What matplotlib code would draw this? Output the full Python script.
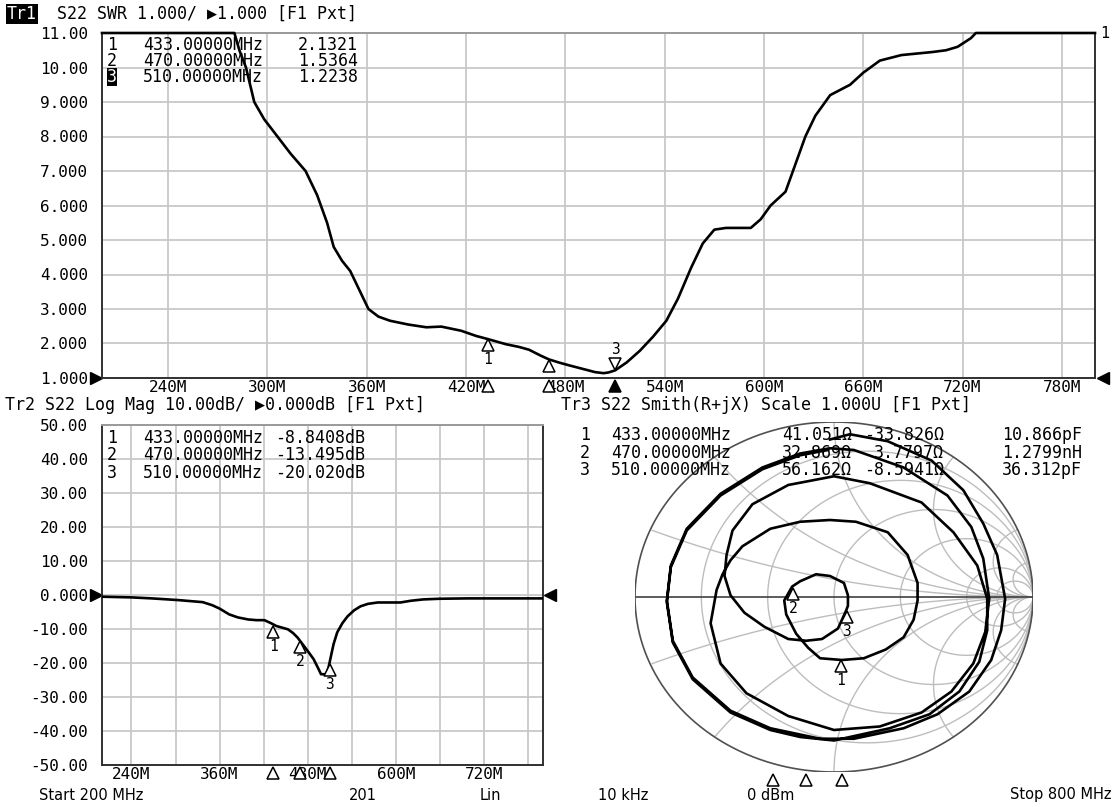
import numpy as np
import matplotlib
matplotlib.use('Agg')
import matplotlib.pyplot as plt
from matplotlib.transforms import offset_copy

plt.rcParams['font.family'] = ['DejaVu Sans Mono', 'DejaVu Sans']
plt.rcParams['font.size'] = 12

# ---- data ----
swr_freq = [200, 240, 280, 283, 287, 292, 298, 306, 314, 323, 330, 336, 340, 345, 350, 355, 361, 367, 374, 385,
            396, 405, 417, 426, 433, 444, 452, 458, 465, 470, 476, 482, 490, 498, 503, 506, 510, 517, 525, 533,
            541, 548, 556, 563, 570, 577, 585, 592, 598, 604, 613, 619, 625, 631, 640, 652, 660, 670, 683, 702,
            710, 717, 725, 728, 760, 800]
swr_val = [11, 11, 11, 10.5, 10.0, 9.0, 8.5, 8.0, 7.5, 7.0, 6.3, 5.5, 4.8, 4.4, 4.1, 3.6, 3.0, 2.78, 2.66, 2.55,
           2.47, 2.49, 2.37, 2.22, 2.13, 1.98, 1.9, 1.82, 1.65, 1.54, 1.45, 1.37, 1.27, 1.17, 1.14, 1.16, 1.22, 1.45, 1.79, 2.2,
           2.66, 3.3, 4.2, 4.9, 5.3, 5.35, 5.35, 5.35, 5.6, 6.0, 6.4, 7.2, 8.0, 8.6, 9.2, 9.5, 9.85, 10.2, 10.36, 10.45,
           10.5, 10.6, 10.85, 11, 11, 11]

lm_freq = [200, 240, 268, 304, 337, 350, 360, 373, 385, 399, 410, 421, 430, 437, 445, 453, 460, 466, 473, 480,
           488, 494, 498, 505, 508, 511, 515, 520, 527, 534, 543, 552, 562, 575, 590, 606, 620, 637, 660, 697,
           740, 800]
lm_db = [-0.5, -0.7, -1.0, -1.5, -2.1, -3.0, -4.0, -5.7, -6.6, -7.2, -7.4, -7.4, -8.3, -9.1, -9.6, -10.1, -11.2, -12.5, -14.5, -16.5,
         -18.9, -21.5, -23.3, -23.3, -21.5, -18.5, -14.5, -11.0, -8.3, -6.3, -4.5, -3.3, -2.6, -2.2, -2.2, -2.2, -1.7, -1.3, -1.1, -1.0,
         -1.0, -1.0]

# reflection coefficient (real, imag) along the sweep
smith_re = [-0.02, 0.08, 0.27, 0.49, 0.65, 0.75, 0.82, 0.86, 0.84, 0.79, 0.68, 0.52, 0.35, 0.10, -0.07, -0.32, -0.52, -0.71, -0.81, -0.84,
            -0.82, -0.74, -0.57, -0.36, -0.17, -0.02,
            0.10, 0.35, 0.57, 0.69, 0.75, 0.78, 0.76, 0.70, 0.59, 0.44, 0.23, 0.00, -0.23, -0.44, -0.57, -0.62, -0.59, -0.56,
            -0.52, -0.46, -0.32, -0.17, -0.02, 0.11, 0.27, 0.37, 0.42, 0.42, 0.40, 0.35, 0.26, 0.15, 0.04,
            -0.07, -0.13, -0.19, -0.24, -0.25, -0.21, -0.17, -0.09, -0.02, 0.05, 0.07, 0.07, 0.06, 0.02, -0.06, -0.14, -0.23, -0.35, -0.45, -0.52, -0.55,
            -0.54, -0.51, -0.41, -0.23, 0.00, 0.18, 0.44, 0.60, 0.72, 0.77, 0.77, 0.73, 0.63, 0.48, 0.28, 0.08, 0.00, -0.17, -0.32, -0.52,
            -0.71, -0.81, -0.84, -0.82, -0.74, -0.57, -0.36, -0.17, -0.03]
smith_im = [0.90, 0.93, 0.89, 0.78, 0.61, 0.42, 0.24, -0.01, -0.19, -0.36, -0.54, -0.67, -0.75, -0.81, -0.81, -0.75, -0.65, -0.46, -0.25, -0.02,
            0.18, 0.39, 0.59, 0.74, 0.82, 0.85,
            0.84, 0.74, 0.58, 0.40, 0.22, -0.01, -0.20, -0.38, -0.54, -0.66, -0.74, -0.76, -0.68, -0.55, -0.38, -0.15, 0.04, 0.13,
            0.21, 0.29, 0.39, 0.43, 0.44, 0.43, 0.37, 0.24, 0.08, -0.02, -0.13, -0.23, -0.30, -0.35, -0.36,
            -0.35, -0.29, -0.21, -0.10, -0.02, 0.06, 0.09, 0.13, 0.12, 0.08, 0.01, -0.05, -0.08, -0.18, -0.24, -0.25, -0.24, -0.17, -0.09, 0.01, 0.12,
            0.24, 0.38, 0.53, 0.64, 0.69, 0.65, 0.54, 0.37, 0.18, -0.01, -0.19, -0.37, -0.54, -0.67, -0.75, -0.80, -0.82, -0.80, -0.76, -0.66,
            -0.47, -0.26, -0.03, 0.17, 0.38, 0.58, 0.73, 0.81, 0.84]

mk_freq = [433, 470, 510]
mk_freq_txt = ['433.00000MHz', '470.00000MHz', '510.00000MHz']
mk_swr = [2.1321, 1.5364, 1.2238]
mk_db = [-8.8408, -13.495, -20.020]
mk_r = [41.051, 32.869, 56.162]
mk_x = [-33.826, 3.7797, -8.5941]
mk_lc = ['10.866pF', '1.2799nH', '36.312pF']

W, H = 1116, 807
FS = 12      # headers and marker tables
TFS = 11.5   # tick labels
fig = plt.figure(figsize=(W / 100, H / 100), dpi=100)
fig.patch.set_facecolor('white')


def add_ax(l, t, r, b):
    return fig.add_axes([l / W, 1 - b / H, (r - l) / W, (b - t) / H])


def ftext(x, y, s, **kw):
    kw.setdefault('va', 'center')
    kw.setdefault('fontsize', FS)
    return fig.text(x / W, 1 - y / H, s, **kw)


def shift(ax, dx=0, dy=0):
    return offset_copy(ax.transData, fig=fig, x=dx, y=dy, units='dots')


def mark(ax, x, y, lab, below=True):
    if below:
        ax.plot(x, y, marker='^', ms=9, mfc='white', mec='black', mew=1.1,
                transform=shift(ax, 0, -6.5), clip_on=False, zorder=5)
        ax.annotate(lab, (x, y), xytext=(0, -21), textcoords='offset pixels',
                    ha='center', va='center', fontsize=10.5, zorder=5)
    else:
        ax.plot(x, y, marker='v', ms=9, mfc='white', mec='black', mew=1.1,
                transform=shift(ax, 0, 6.5), clip_on=False, zorder=5)
        ax.annotate(lab, (x, y), xytext=(0, 21), textcoords='offset pixels',
                    ha='center', va='center', fontsize=10.5, zorder=5)


def style(ax):
    ax.grid(True, color='#c8c8c8', lw=1.3)
    ax.set_axisbelow(True)
    ax.tick_params(length=0, labelsize=TFS)
    for sp in ax.spines.values():
        sp.set_color('#303030')
        sp.set_linewidth(1.4)
    ax.spines['top'].set_color('#9a9a9a')


# ---- Tr1: SWR ----
ax1 = add_ax(102, 33, 1095, 378)
ax1.plot(swr_freq, swr_val, color='black', lw=1.9, clip_on=False, zorder=4)
ax1.set_xlim(200, 800)
ax1.set_ylim(1, 11)
ax1.set_xticks(np.arange(240, 800, 60))
ax1.set_xticklabels([f'{v}M' for v in range(240, 800, 60)])
ax1.set_yticks(range(1, 12))
ax1.set_yticklabels(['1.000', '2.000', '3.000', '4.000', '5.000', '6.000', '7.000', '8.000', '9.000', '10.00', '11.00'])
style(ax1)
ax1.tick_params(axis='y', pad=10)
ax1.tick_params(axis='x', pad=1.5)
mark(ax1, mk_freq[0], mk_swr[0], '1')
mark(ax1, mk_freq[1], mk_swr[1], '')
mark(ax1, mk_freq[2], mk_swr[2], '3', below=False)
for i, f in enumerate(mk_freq):
    ax1.plot(f, 1, marker='^', ms=9, mfc='black' if i == 2 else 'white', mec='black', mew=1.1,
             transform=shift(ax1, 0, -8), clip_on=False, zorder=5)
ax1.plot(200, 1, marker='>', ms=9, color='black', transform=shift(ax1, -6, 0), clip_on=False)
ax1.plot(800, 1, marker='<', ms=9, color='black', transform=shift(ax1, 8, 0), clip_on=False)
ftext(1100, 33, '1', fontsize=11)

# header + marker table
ftext(7, 14, 'Tr1', color='white', bbox=dict(fc='black', ec='none', pad=0.6))
ftext(57, 14, 'S22 SWR 1.000/ \u25b61.000 [F1 Pxt]')
for i in range(3):
    y = 45 + 16 * i
    if i == 2:
        ftext(107, y, '3', color='white', bbox=dict(fc='black', ec='none', pad=0.3))
    else:
        ftext(107, y, str(i + 1))
    ftext(143, y, mk_freq_txt[i])
    ftext(298, y, f'{mk_swr[i]:#.5g}')

# ---- Tr2: Log Mag ----
ax2 = add_ax(102, 425, 543, 765)
ax2.plot(lm_freq, lm_db, color='black', lw=1.9, zorder=4)
ax2.set_xlim(200, 800)
ax2.set_ylim(-50, 50)
ax2.set_xticks(np.arange(240, 800, 60))
ax2.set_xticklabels([f'{v}M' if (v - 240) % 120 == 0 else '' for v in range(240, 800, 60)])
ax2.set_yticks(range(-50, 51, 10))
ax2.set_yticklabels(['-50.00', '-40.00', '-30.00', '-20.00', '-10.00', '0.000',
                     '10.00', '20.00', '30.00', '40.00', '50.00'])
style(ax2)
ax2.tick_params(axis='y', pad=10)
ax2.tick_params(axis='x', pad=1.5)
for i, f in enumerate(mk_freq):
    mark(ax2, f, mk_db[i], str(i + 1))
    ax2.plot(f, -50, marker='^', ms=9, mfc='white', mec='black', mew=1.1,
             transform=shift(ax2, 0, -8), clip_on=False, zorder=5)
ax2.plot(200, 0, marker='>', ms=9, color='black', transform=shift(ax2, -6, 0), clip_on=False)
ax2.plot(800, 0, marker='<', ms=9, color='black', transform=shift(ax2, 7, 0), clip_on=False)

ftext(5, 405, 'Tr2 S22 Log Mag 10.00dB/ \u25b60.000dB [F1 Pxt]')
for i in range(3):
    y = 438 + 17.5 * i
    ftext(107, y, str(i + 1))
    ftext(143, y, mk_freq_txt[i])
    ftext(275, y, f'{mk_db[i]:#.5g}dB')

# ---- Tr3: Smith chart ----
ax3 = add_ax(635, 422, 1033, 772)
ax3.set_xlim(-1, 1)
ax3.set_ylim(-1, 1)
ax3.axis('off')
t = np.linspace(0, 2 * np.pi, 1441)
for r in [0.2, 0.5, 1, 2, 5, 10]:
    c, rad = r / (1 + r), 1 / (1 + r)
    ax3.plot(c + rad * np.cos(t), rad * np.sin(t), color='#bdbdbd', lw=1.0)
for xv in [0.2, 0.5, 1, 2, 5, 10, -0.2, -0.5, -1, -2, -5, -10]:
    gx = 1 + np.cos(t) / abs(xv)
    gy = 1 / xv + np.sin(t) / abs(xv)
    inside = gx ** 2 + gy ** 2 <= 1.0001
    ax3.plot(np.where(inside, gx, np.nan), np.where(inside, gy, np.nan), color='#bdbdbd', lw=1.0)
ax3.plot(np.cos(t), np.sin(t), color='#505050', lw=1.2)
ax3.plot([-1, 1], [0, 0], color='#404040', lw=1.2)
ax3.plot(smith_re, smith_im, color='black', lw=1.9, zorder=4)
z = (np.array(mk_r) + 1j * np.array(mk_x))
gam = (z - 50) / (z + 50)
for i in range(3):
    mark(ax3, gam[i].real, gam[i].imag, str(i + 1))

ax_ind = add_ax(563, 772, 1103, 788)
ax_ind.set_xlim(200, 800)
ax_ind.set_ylim(0, 1)
ax_ind.axis('off')
ax_ind.plot(mk_freq, [0.5] * 3, ls='none', marker='^', ms=9, mfc='white', mec='black', mew=1.1)

ftext(561, 405, 'Tr3 S22 Smith(R+jX) Scale 1.000U [F1 Pxt]')
for i in range(3):
    y = 435 + 17.5 * i
    ftext(580, y, str(i + 1))
    ftext(611, y, mk_freq_txt[i])
    ftext(852, y, f'{mk_r[i]:#.5g}\u03a9', ha='right')
    ftext(944, y, f'{mk_x[i]:#.5g}\u03a9', ha='right')
    ftext(1082, y, mk_lc[i], ha='right')

# ---- status line ----
SANS = ['DejaVu Sans']
ftext(39, 795, 'Start 200 MHz', family=SANS, fontsize=10.5)
ftext(363, 795, '201', family=SANS, fontsize=10.5, ha='center')
ftext(490, 795, 'Lin', family=SANS, fontsize=10.5, ha='center')
ftext(623, 795, '10 kHz', family=SANS, fontsize=10.5, ha='center')
ftext(771, 795, '0 dBm', family=SANS, fontsize=10.5, ha='center')
ftext(1111, 795, 'Stop 800 MHz', family=SANS, fontsize=10.5, ha='right')

fig.savefig('out.png', dpi=100)
